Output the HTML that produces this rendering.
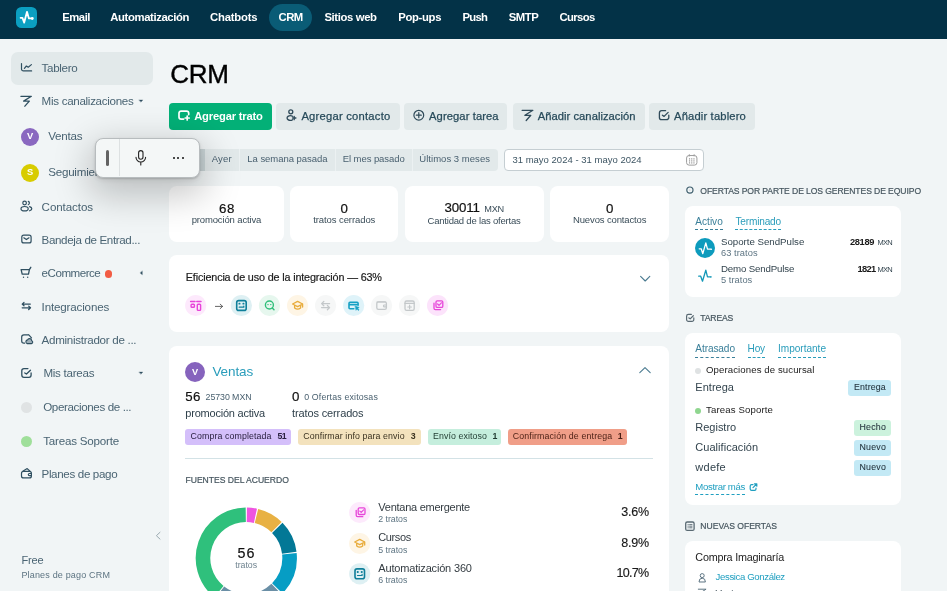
<!DOCTYPE html>
<html lang="es">
<head>
<meta charset="utf-8">
<title>CRM</title>
<style>
*{box-sizing:border-box;margin:0;padding:0}
html,body{width:947px;height:591px;overflow:hidden}
body{font-family:"Liberation Sans",sans-serif;background:#f1f5f6;color:#111;position:relative;font-size:11px}
.a{position:absolute}
.t{position:absolute;white-space:nowrap;line-height:1}
svg{position:absolute;overflow:visible}
#nav{position:absolute;left:0;top:0;width:947px;height:38.5px;background:#033247}
.card{position:absolute;background:#fff;border-radius:8px}
.btn{position:absolute;top:103px;height:27px;border-radius:4px;background:#e2e9ea}
.ic{position:absolute;width:21px;height:21px;border-radius:50%}
.tag{position:absolute;top:429.3px;height:15.4px;border-radius:3px}
.bdg{position:absolute;height:15.6px;border-radius:3px;background:#c3e9f5}
.dash{position:absolute;height:0;border-top:1px dashed #2a9dbb}
</style>
</head>
<body>
<!-- NAV -->
<div id="nav"></div>
<div class="a" style="left:16px;top:6.8px;width:21px;height:21px;border-radius:5.5px;background:#0b9fc1"></div>
<svg style="left:16px;top:6.8px" width="21" height="21" viewBox="0 0 21 21"><path d="M4.6 10.8 H6.4 L8.2 15.6 L11 4.8 L12.9 11.4 H15.4" fill="none" stroke="#fff" stroke-width="1.8" stroke-linecap="round" stroke-linejoin="round"/><circle cx="16.3" cy="11.5" r="1.4" fill="#fff"/></svg>
<div class="a" style="left:269px;top:4px;width:43px;height:27px;border-radius:14px;background:#0a5c76"></div>

<!-- SIDEBAR -->
<div class="a" style="left:11px;top:52px;width:142px;height:32.5px;border-radius:7px;background:#e2e9ea"></div>
<div class="a" style="left:21px;top:127.5px;width:18px;height:18px;border-radius:50%;background:#8a68c0"></div>
<div class="a" style="left:21px;top:163.7px;width:18px;height:18px;border-radius:50%;background:#d8cc00"></div>
<div class="a" style="left:104.8px;top:270.4px;width:7.2px;height:7.2px;border-radius:50%;background:#f25c44"></div>
<div class="a" style="left:21px;top:401.8px;width:11px;height:11px;border-radius:50%;background:#e0e3e4"></div>
<div class="a" style="left:21px;top:435.8px;width:11px;height:11px;border-radius:50%;background:#9fdf9a"></div>

<!-- BUTTONS -->
<div class="btn" style="left:169px;width:103px;background:#03b077"></div>
<div class="btn" style="left:276.2px;width:123.6px"></div>
<div class="btn" style="left:404.3px;width:103.2px"></div>
<div class="btn" style="left:513.2px;width:131.6px"></div>
<div class="btn" style="left:649px;width:106px"></div>
<!--BTNICONS-->

<!-- FILTER TABS -->
<div class="a" style="left:169px;top:149px;width:328.6px;height:21.6px;background:#e2e9ea;border-radius:4px"></div>
<div class="a" style="left:169px;top:149px;width:36px;height:21.6px;background:#c9d4d6;border-radius:4px 0 0 4px"></div>
<div class="a" style="left:239.2px;top:149px;width:1px;height:21.6px;background:#ecf1f2"></div>
<div class="a" style="left:335.3px;top:149px;width:1px;height:21.6px;background:#ecf1f2"></div>
<div class="a" style="left:412px;top:149px;width:1px;height:21.6px;background:#ecf1f2"></div>
<div class="a" style="left:504.3px;top:149px;width:199.6px;height:22px;background:#fff;border:1px solid #c5ced2;border-radius:4px"></div>
<svg style="left:686px;top:154.3px" width="11.5" height="11.8" viewBox="0 0 12 12.3"><rect x="0.6" y="1.6" width="10.8" height="10" rx="2.6" fill="none" stroke="#999" stroke-width="1"/><path d="M3.5 0.3v2.2M8.5 0.3v2.2" stroke="#999" stroke-width="1"/><g fill="#8e8e8e"><rect x="3.1" y="4.5" width="1.2" height="1.2"/><rect x="5.4" y="4.5" width="1.2" height="1.2"/><rect x="7.7" y="4.5" width="1.2" height="1.2"/><rect x="3.1" y="6.6" width="1.2" height="1.2"/><rect x="5.4" y="6.6" width="1.2" height="1.2"/><rect x="7.7" y="6.6" width="1.2" height="1.2"/><rect x="3.1" y="8.7" width="1.2" height="1.2"/><rect x="5.4" y="8.7" width="1.2" height="1.2"/><rect x="7.7" y="8.7" width="1.2" height="1.2"/></g></svg>

<!-- STAT CARDS -->
<div class="card" style="left:169px;top:186px;width:115px;height:56px"></div>
<div class="card" style="left:290.2px;top:186px;width:108px;height:56px"></div>
<div class="card" style="left:405px;top:186px;width:139px;height:56px"></div>
<div class="card" style="left:550.2px;top:186px;width:118.6px;height:56px"></div>

<!-- EFFICIENCY CARD -->
<div class="card" style="left:169px;top:255.2px;width:499.8px;height:76.4px"></div>
<!--EFFICONS-->

<!-- VENTAS CARD -->
<div class="card" style="left:169px;top:346px;width:499.8px;height:260px"></div>
<div class="a" style="left:185px;top:362px;width:20px;height:20px;border-radius:50%;background:#8663bd"></div>
<div class="tag" style="left:185px;width:105.8px;background:#d4bffa"></div>
<div class="tag" style="left:298.2px;width:122.8px;background:#f3e2bd"></div>
<div class="tag" style="left:428.2px;width:72.8px;background:#c5eedd"></div>
<div class="tag" style="left:508px;width:119px;background:#f09e88"></div>
<div class="a" style="left:185px;top:457.8px;width:467.8px;height:1px;background:#d3e2e6"></div>
<svg width="947" height="591" viewBox="0 0 947 591" style="left:0;top:0"><path d="M246.83 514.80 A43.3 43.3 0 0 1 255.42 515.77" fill="none" stroke="#ee55e0" stroke-width="14.6"/><path d="M256.45 516.01 A43.3 43.3 0 0 1 276.54 527.11" fill="none" stroke="#e8b143" stroke-width="14.6"/><path d="M277.29 527.86 A43.3 43.3 0 0 1 289.27 552.73" fill="none" stroke="#037896" stroke-width="14.6"/><path d="M289.38 553.78 A43.3 43.3 0 0 1 277.29 588.34" fill="none" stroke="#069dc4" stroke-width="14.6"/><path d="M276.54 589.09 A43.3 43.3 0 0 1 219.72 592.28" fill="none" stroke="#6a8fa6" stroke-width="14.6"/><path d="M218.89 591.62 A43.3 43.3 0 0 1 245.77 514.80" fill="none" stroke="#2fc07c" stroke-width="14.6"/></svg>

<!-- RIGHT COLUMN -->
<div class="card" style="left:685.2px;top:206px;width:215.8px;height:91px"></div>
<div class="card" style="left:685.2px;top:333.2px;width:215.8px;height:171.7px"></div>
<div class="card" style="left:685.2px;top:541.1px;width:215.8px;height:80px"></div>
<div class="dash" style="left:695.3px;top:229px;width:27.5px;border-color:#3a7f99"></div>
<div class="dash" style="left:735.4px;top:229px;width:45.6px"></div>
<div class="dash" style="left:695.3px;top:357px;width:39.6px;border-color:#3a7f99"></div>
<div class="dash" style="left:747.5px;top:357px;width:17.5px"></div>
<div class="dash" style="left:778px;top:357px;width:48px"></div>
<div class="dash" style="left:695.3px;top:494px;width:49.7px;border-color:#1f9fc0"></div>
<div class="a" style="left:694.8px;top:237.6px;width:20.4px;height:20.4px;border-radius:50%;background:#0d9bbd"></div>
<div class="a" style="left:694.8px;top:367.8px;width:6.4px;height:6.4px;border-radius:50%;background:#dfe2e3"></div>
<div class="a" style="left:694.8px;top:407.8px;width:6.4px;height:6.4px;border-radius:50%;background:#8fd68f"></div>
<div class="bdg" style="left:848px;top:380.2px;width:43px"></div>
<div class="bdg" style="left:854px;top:420.3px;width:37px;background:#ccf2dd"></div>
<div class="bdg" style="left:854px;top:440.3px;width:37px"></div>
<div class="bdg" style="left:854px;top:460.4px;width:37px"></div>
<svg class="ov" width="947" height="591" viewBox="0 0 947 591" style="left:0;top:0"><path d="M21.5 63.6 V69 a1.9 1.9 0 0 0 1.9 1.9 H31.6 M24.4 68.4 L26.4 66 L28.2 67.2 L31.4 64.6" fill="none" stroke="#2f4f60" stroke-width="1.2" stroke-linecap="round" stroke-linejoin="round" />
<path d="M20.9 96.3 H31.38 L23.62 101.15 H29.34 L24.88 106.19" fill="none" stroke="#2f4f60" stroke-width="1.3" stroke-linecap="round" stroke-linejoin="round" />
<circle cx="24.6" cy="203" r="1.8" fill="none" stroke="#2f4f60" stroke-width="1.2"/>
<ellipse cx="24.6" cy="208.7" rx="3.6" ry="2.2" fill="none" stroke="#2f4f60" stroke-width="1.2"/>
<path d="M28.3 201.4 a1.8 1.8 0 0 1 0 3.3 M29.6 206.6 q2.2 0.7 2.2 2.1 q0 1.4 -2.2 2.1" fill="none" stroke="#2f4f60" stroke-width="1.2" stroke-linecap="round" stroke-linejoin="round" />
<rect x="21.8" y="235.2" width="9.3" height="7.7" rx="2" fill="none" stroke="#2f4f60" stroke-width="1.2"/>
<path d="M23.8 237.8 L26.4 239.6 L29 237.8" fill="none" stroke="#2f4f60" stroke-width="1.2" stroke-linecap="round" stroke-linejoin="round" />
<path d="M21.1 269.6 H29.4 L28.5 274.2 H22.2 Z M29.4 269.6 L30.8 267.3" fill="none" stroke="#2f4f60" stroke-width="1.3" stroke-linecap="round" stroke-linejoin="round" />
<circle cx="23.5" cy="277.2" r="0.7" fill="#2f4f60" stroke="#2f4f60" stroke-width="0"/>
<circle cx="27.7" cy="277.2" r="0.7" fill="#2f4f60" stroke="#2f4f60" stroke-width="0"/>
<path d="M30.3 304.1 H22.4 M24 302.4 L22.2 304.1 L24 305.8 M22.2 307.8 H30.3 M28.7 306.1 L30.5 307.8 L28.7 309.5" fill="none" stroke="#2f4f60" stroke-width="1.3" stroke-linecap="round" stroke-linejoin="round" />
<path d="M28.8 334.9 H23.9 a2.2 2.2 0 0 0 -2.2 2.2 V341 a2.2 2.2 0 0 0 2.2 2.2 H24.6 M28.8 334.9 L31.5 337.8" fill="none" stroke="#2f4f60" stroke-width="1.2" stroke-linecap="round" stroke-linejoin="round" />
<path d="M27.2 343.6 a1.9 1.9 0 0 1 0.3 -3.7 a2.2 2.2 0 0 1 4.2 0.8 a1.5 1.5 0 0 1 -0.2 2.9 Z" fill="#9fb0b9" stroke="#2f4f60" stroke-width="1.1" stroke-linecap="round" stroke-linejoin="round" />
<path d="M27.94 368.6 H24.0 a2.2 2.2 0 0 0 -2.2 2.2 V375.1 a2.2 2.2 0 0 0 2.2 2.2 H28.900000000000002 a2.2 2.2 0 0 0 2.2 -2.2 V372.95 M24.78 372.95 L26.45 374.08 L30.45 370.25" fill="none" stroke="#2f4f60" stroke-width="1.3" stroke-linecap="round" stroke-linejoin="round" />
<rect x="21.5" y="471.4" width="9.9" height="6.5" rx="2" fill="none" stroke="#2f4f60" stroke-width="1.2"/>
<path d="M22.8 471.3 L27.2 468.6 L30 471.3 M31.4 473.5 H29.4 a1.1 1.1 0 0 0 0 2.2 H31.4" fill="none" stroke="#2f4f60" stroke-width="1.2" stroke-linecap="round" stroke-linejoin="round" />
<path d="M139.2 99.9 H142.8 L141 102 Z" fill="#2f4f60" stroke="#2f4f60" stroke-width="0.3" stroke-linecap="round" stroke-linejoin="round" />
<path d="M142.3 271.2 V274.8 L140.2 273 Z" fill="#2f4f60" stroke="#2f4f60" stroke-width="0.3" stroke-linecap="round" stroke-linejoin="round" />
<path d="M139.2 372 H142.8 L141 374.1 Z" fill="#2f4f60" stroke="#2f4f60" stroke-width="0.3" stroke-linecap="round" stroke-linejoin="round" />
<path d="M160 532.3 L156.4 535.7 L160 539.1" fill="none" stroke="#9aa9b0" stroke-width="1" stroke-linecap="round" stroke-linejoin="round" />
<path d="M188.7 114.6 V113.2 a2.1 2.1 0 0 0 -2.1 -2.1 H181.1 a2.1 2.1 0 0 0 -2.1 2.1 V117 a2.1 2.1 0 0 0 2.1 2.1 H183.6 M187.2 116 V120 M185.2 118 H189.2" fill="none" stroke="#fff" stroke-width="1.7" stroke-linecap="round" stroke-linejoin="round" />
<circle cx="290.8" cy="111.8" r="2" fill="none" stroke="#2f4a59" stroke-width="1.3"/>
<path d="M292.6 116.3 a3.3 2.3 0 1 0 0 3.4 M294.2 116.3 V119.7 M292.5 118 H295.9" fill="none" stroke="#2f4a59" stroke-width="1.3" stroke-linecap="round" stroke-linejoin="round" />
<circle cx="418.8" cy="115.2" r="4.9" fill="none" stroke="#2f4a59" stroke-width="1.2"/>
<path d="M418.8 112.7 V117.7 M416.3 115.2 H421.3" fill="none" stroke="#2f4a59" stroke-width="1.2" stroke-linecap="round" stroke-linejoin="round" />
<path d="M522.1 110.3 H532.90 L524.90 115.30 H530.80 L526.20 120.50" fill="none" stroke="#2f4a59" stroke-width="1.3" stroke-linecap="round" stroke-linejoin="round" />
<path d="M665.60 110.7 H661.6999999999999 a2.3 2.3 0 0 0 -2.3 2.3 V117.4 a2.3 2.3 0 0 0 2.3 2.3 H666.5 a2.3 2.3 0 0 0 2.3 -2.3 V115.20 M662.41 115.20 L664.10 116.37 L668.14 112.41" fill="none" stroke="#2f4a59" stroke-width="1.3" stroke-linecap="round" stroke-linejoin="round" />
<path d="M640.6 276.4 L645.2 281 L649.8 276.4" fill="none" stroke="#4a7a90" stroke-width="1.1" stroke-linecap="round" stroke-linejoin="round" />
<path d="M639.8 372.6 L645 367.6 L650.2 372.6" fill="none" stroke="#4a7a90" stroke-width="1.1" stroke-linecap="round" stroke-linejoin="round" />
<path d="M215.4 306.4 H222.6 M220.2 304.2 L222.6 306.4 L220.2 308.6" fill="none" stroke="#555" stroke-width="0.9" stroke-linecap="round" stroke-linejoin="round" />
<circle cx="195.7" cy="305.5" r="10.6" fill="#fde9fc"/>
<path d="M190.6 301.5 H195 M196.8 301.5 H201" fill="none" stroke="#e746d9" stroke-width="1.5" stroke-linecap="round" stroke-linejoin="round" />
<rect x="191.1" y="304.2" width="3.3" height="3.1" rx="0.8" fill="none" stroke="#e746d9" stroke-width="1.4"/>
<rect x="197.3" y="304.2" width="3.3" height="6.2" rx="0.8" fill="none" stroke="#e746d9" stroke-width="1.4"/>
<circle cx="241.4" cy="305.5" r="10.6" fill="#def0f3"/>
<rect x="236.7" y="300.6" width="9.5" height="9.8" rx="2" fill="none" stroke="#0e7f9a" stroke-width="1.6"/>
<path d="M239.3 303.7 h0.3 M243.3 303.7 h0.3" fill="none" stroke="#0e7f9a" stroke-width="1.8" stroke-linecap="round" stroke-linejoin="round" />
<path d="M239.2 307.2 H243.8 M243.8 306 V307.2" fill="none" stroke="#0e7f9a" stroke-width="1.2" stroke-linecap="round" stroke-linejoin="round" />
<circle cx="269.5" cy="305.5" r="10.6" fill="#e6f7ee"/>
<circle cx="269.4" cy="305" r="4" fill="none" stroke="#2fbf7a" stroke-width="1.4"/>
<path d="M272.3 308 L274 309.8" fill="none" stroke="#2fbf7a" stroke-width="1.4" stroke-linecap="round" stroke-linejoin="round" />
<path d="M267.9 304.6 h0.2 M270.7 304.6 h0.2" fill="none" stroke="#2fbf7a" stroke-width="1.3" stroke-linecap="round" stroke-linejoin="round" />
<circle cx="297.6" cy="305.5" r="10.6" fill="#fef5e5"/>
<path d="M292.6 304 L297.6 301.4 L302.6 304 L297.6 306.6 Z M294.6 305.4 V308 q3 2.4 6 0 V305.4 M302.6 304 V307" fill="none" stroke="#e8ac3c" stroke-width="1.3" stroke-linecap="round" stroke-linejoin="round" />
<circle cx="325.6" cy="305.5" r="10.6" fill="#f6f7f7"/>
<path d="M329.6 303.6 H321.8 M323.8 301.5 L321.6 303.6 L323.8 305.7 M321.6 307.6 H329.4 M327.4 305.5 L329.6 307.6 L327.4 309.7" fill="none" stroke="#c4c8ca" stroke-width="1.3" stroke-linecap="round" stroke-linejoin="round" />
<circle cx="353.7" cy="305.5" r="10.6" fill="#dff3f9"/>
<path d="M358.1 305.2 V303.4 a1 1 0 0 0 -1 -1 H350 a1 1 0 0 0 -1 1 V307.8 a1 1 0 0 0 1 1 H353.8 M349 304.8 H358.1" fill="none" stroke="#16a0c4" stroke-width="1.6" stroke-linecap="round" stroke-linejoin="round" />
<path d="M355.4 306.2 L359.2 307.4 L357.7 308.2 L359 309.8 L358.2 310.4 L357 308.8 L356.2 310 Z" fill="#16a0c4" stroke="#16a0c4" stroke-width="0.6" stroke-linecap="round" stroke-linejoin="round" />
<circle cx="381.6" cy="305.5" r="10.6" fill="#f6f7f7"/>
<rect x="376.8" y="301.8" width="9.6" height="7.6" rx="1.6" fill="none" stroke="#c4c8ca" stroke-width="1.3"/>
<path d="M377 302 H385.6 M386.4 305 H384.4 a0.9 0.9 0 0 0 0 1.8 H386.4" fill="none" stroke="#c4c8ca" stroke-width="1.2" stroke-linecap="round" stroke-linejoin="round" />
<circle cx="409.6" cy="305.5" r="10.6" fill="#f6f7f7"/>
<rect x="405" y="301" width="9.2" height="9.4" rx="1.6" fill="none" stroke="#c4c8ca" stroke-width="1.3"/>
<path d="M405 303.4 H414.2 M409.6 305.2 V308.8 M407.8 307 H411.4" fill="none" stroke="#c4c8ca" stroke-width="1.2" stroke-linecap="round" stroke-linejoin="round" />
<circle cx="437.6" cy="305.5" r="10.6" fill="#fce3fb"/>
<rect x="436" y="300.8" width="6.8" height="6.6" rx="1.2" fill="none" stroke="#e746d9" stroke-width="1.3"/>
<path d="M434 303.2 V308.2 a1.4 1.4 0 0 0 1.4 1.4 H440.6" fill="none" stroke="#e746d9" stroke-width="1.3" stroke-linecap="round" stroke-linejoin="round" />
<path d="M437.6 304 L439 305.3 L441.4 302.8" fill="none" stroke="#e746d9" stroke-width="1.2" stroke-linecap="round" stroke-linejoin="round" />
<circle cx="359.7" cy="512.5" r="10.6" fill="#fdeafc"/>
<rect x="358.2" y="507.9" width="6.8" height="6.6" rx="1.2" fill="none" stroke="#e746d9" stroke-width="1.3"/>
<path d="M356.2 510.3 V515.3 a1.4 1.4 0 0 0 1.4 1.4 H362.8" fill="none" stroke="#e746d9" stroke-width="1.3" stroke-linecap="round" stroke-linejoin="round" />
<path d="M359.8 511.1 L361.2 512.4 L363.6 509.9" fill="none" stroke="#e746d9" stroke-width="1.2" stroke-linecap="round" stroke-linejoin="round" />
<circle cx="359.7" cy="543.5" r="10.6" fill="#fef5e5"/>
<path d="M354.7 542 L359.7 539.4 L364.7 542 L359.7 544.6 Z M356.7 543.4 V546 q3 2.4 6 0 V543.4 M364.7 542 V545" fill="none" stroke="#e8ac3c" stroke-width="1.3" stroke-linecap="round" stroke-linejoin="round" />
<circle cx="359.7" cy="573.8" r="10.6" fill="#def0f3"/>
<rect x="355" y="568.9" width="9.5" height="9.8" rx="2" fill="none" stroke="#0e7f9a" stroke-width="1.6"/>
<path d="M357.6 572 h0.3 M361.6 572 h0.3" fill="none" stroke="#0e7f9a" stroke-width="1.8" stroke-linecap="round" stroke-linejoin="round" />
<path d="M357.5 575.5 H362.1 M362.1 574.3 V575.5" fill="none" stroke="#0e7f9a" stroke-width="1.2" stroke-linecap="round" stroke-linejoin="round" />
<circle cx="689.9" cy="190.1" r="3.1" fill="none" stroke="#41606f" stroke-width="1.2"/>
<circle cx="689.9" cy="190.1" r="0.5" fill="#9fb0b8" stroke="#5a6a73" stroke-width="0"/>
<path d="M691.35 314.4 H688.4 a1.8 1.8 0 0 0 -1.8 1.8 V319.59999999999997 a1.8 1.8 0 0 0 1.8 1.8 H692.0000000000001 a1.8 1.8 0 0 0 1.8 -1.8 V317.90 M688.90 317.90 L690.20 318.81 L693.30 315.73" fill="none" stroke="#5a6a73" stroke-width="1.2" stroke-linecap="round" stroke-linejoin="round" />
<rect x="685.7" y="522" width="8.4" height="8.4" rx="1.5" fill="none" stroke="#5a6a73" stroke-width="1.3"/>
<path d="M688 524.6 h0.3 M689.6 524.6 H692 M688 526.2 h0.3 M689.6 526.2 H692 M688 527.8 h0.3 M689.6 527.8 H692" fill="none" stroke="#5a6a73" stroke-width="0.9" stroke-linecap="round" stroke-linejoin="round" />
<path d="M699.2 248.8 H701.2 L702.8 253.7 L705.8 242.8 L707.5 249.2 H710.6" fill="none" stroke="#fff" stroke-width="1.3" stroke-linecap="round" stroke-linejoin="round" />
<circle cx="711.3" cy="249.2" r="0.8" fill="#fff" stroke="#fff" stroke-width="0"/>
<path d="M698.7 276.2 H700.7 L702.5 281.2 L705.8 270.2 L707.5 276.9 H710.2" fill="none" stroke="#1398b8" stroke-width="1.3" stroke-linecap="round" stroke-linejoin="round" />
<circle cx="710.9" cy="276.9" r="0.8" fill="#1398b8" stroke="#1398b8" stroke-width="0"/>
<path d="M753 484.6 H751.6 a1.4 1.4 0 0 0 -1.4 1.4 V489 a1.4 1.4 0 0 0 1.4 1.4 H754.6 a1.4 1.4 0 0 0 1.4 -1.4 V488" fill="none" stroke="#1f9fc0" stroke-width="1.2" stroke-linecap="round" stroke-linejoin="round" />
<path d="M753 487.6 L756.6 484 M754.4 483.8 H756.8 V486.2" fill="none" stroke="#1f9fc0" stroke-width="1.2" stroke-linecap="round" stroke-linejoin="round" />
<circle cx="702.2" cy="575.6" r="2" fill="none" stroke="#5d7482" stroke-width="1"/>
<path d="M699 581.6 q0 -3.4 3.2 -3.4 q3.2 0 3.2 3.4 Z" fill="none" stroke="#5d7482" stroke-width="1" stroke-linecap="round" stroke-linejoin="round" />
<path d="M698.3 589.2 H706.08 L700.32 592.80 H704.56 L701.25 596.54" fill="none" stroke="#5d7482" stroke-width="1" stroke-linecap="round" stroke-linejoin="round" /></svg>

<div id="tx" style="position:absolute;left:0;top:0;width:947px;height:591px;will-change:transform">
<div class="t" style="left:62.20px;top:12.00px;font-size:11.3px;color:#fff;font-weight:700;letter-spacing:-0.468px;">Email</div>
<div class="t" style="left:110.30px;top:12.00px;font-size:11.3px;color:#fff;font-weight:700;letter-spacing:-0.386px;">Automatización</div>
<div class="t" style="left:210.10px;top:12.00px;font-size:11.3px;color:#fff;font-weight:700;letter-spacing:-0.219px;">Chatbots</div>
<div class="t" style="left:278.60px;top:12.00px;font-size:11.3px;color:#fff;font-weight:700;letter-spacing:-0.578px;">CRM</div>
<div class="t" style="left:324.40px;top:12.00px;font-size:11.3px;color:#fff;font-weight:700;letter-spacing:-0.367px;">Sitios web</div>
<div class="t" style="left:398.30px;top:12.00px;font-size:11.3px;color:#fff;font-weight:700;letter-spacing:-0.341px;">Pop-ups</div>
<div class="t" style="left:462.40px;top:12.00px;font-size:11.3px;color:#fff;font-weight:700;letter-spacing:-0.700px;">Push</div>
<div class="t" style="left:508.70px;top:12.00px;font-size:11.3px;color:#fff;font-weight:700;letter-spacing:-0.423px;">SMTP</div>
<div class="t" style="left:559.40px;top:12.00px;font-size:11.3px;color:#fff;font-weight:700;letter-spacing:-0.604px;">Cursos</div>
<div class="t" style="left:41.60px;top:62.00px;font-size:11.6px;color:#4a6473;letter-spacing:-0.319px;">Tablero</div>
<div class="t" style="left:41.60px;top:95.00px;font-size:11.6px;color:#4a6473;letter-spacing:-0.301px;">Mis canalizaciones</div>
<div class="t" style="left:48.20px;top:130.00px;font-size:11.6px;color:#4a6473;letter-spacing:-0.195px;">Ventas</div>
<div class="t" style="left:48.20px;top:166.00px;font-size:11.6px;color:#4a6473;letter-spacing:-0.223px;">Seguimiento</div>
<div class="t" style="left:41.60px;top:201.00px;font-size:11.6px;color:#4a6473;letter-spacing:-0.089px;">Contactos</div>
<div class="t" style="left:41.60px;top:234.00px;font-size:11.6px;color:#4a6473;letter-spacing:-0.366px;">Bandeja de Entrad...</div>
<div class="t" style="left:41.60px;top:267.00px;font-size:11.6px;color:#4a6473;letter-spacing:-0.493px;">eCommerce</div>
<div class="t" style="left:41.60px;top:301.00px;font-size:11.6px;color:#4a6473;letter-spacing:-0.162px;">Integraciones</div>
<div class="t" style="left:41.60px;top:334.00px;font-size:11.6px;color:#4a6473;letter-spacing:-0.292px;">Administrador de ...</div>
<div class="t" style="left:43.40px;top:367.00px;font-size:11.6px;color:#4a6473;letter-spacing:-0.268px;">Mis tareas</div>
<div class="t" style="left:43.20px;top:401.00px;font-size:11.6px;color:#4a6473;letter-spacing:-0.375px;">Operaciones de ...</div>
<div class="t" style="left:43.20px;top:435.00px;font-size:11.6px;color:#4a6473;letter-spacing:-0.203px;">Tareas Soporte</div>
<div class="t" style="left:41.50px;top:468.00px;font-size:11.6px;color:#4a6473;letter-spacing:-0.342px;">Planes de pago</div>
<div class="t" style="left:21.40px;top:555.00px;font-size:11px;color:#4a6473;letter-spacing:-0.131px;">Free</div>
<div class="t" style="left:21.40px;top:571.00px;font-size:9px;color:#5d7482;letter-spacing:0.174px;">Planes de pago CRM</div>
<div class="t" style="left:26.90px;top:132.00px;font-size:9.3px;color:#fff;font-weight:700;">V</div>
<div class="t" style="left:26.90px;top:168.00px;font-size:9.3px;color:#fff;font-weight:700;">S</div>
<div class="t" style="left:170.20px;top:61.00px;font-size:26px;color:#000;letter-spacing:-0.206px;-webkit-text-stroke:0.4px #000;">CRM</div>
<div class="t" style="left:194.20px;top:111.00px;font-size:11.2px;color:#fff;font-weight:700;letter-spacing:-0.175px;">Agregar trato</div>
<div class="t" style="left:301.40px;top:111.00px;font-size:11.2px;color:#274a5a;letter-spacing:0.244px;-webkit-text-stroke:0.25px #274a5a;">Agregar contacto</div>
<div class="t" style="left:429.00px;top:111.00px;font-size:11.2px;color:#274a5a;letter-spacing:0.098px;-webkit-text-stroke:0.25px #274a5a;">Agregar tarea</div>
<div class="t" style="left:537.70px;top:111.00px;font-size:11.2px;color:#274a5a;letter-spacing:0.046px;-webkit-text-stroke:0.25px #274a5a;">Añadir canalización</div>
<div class="t" style="left:674.00px;top:111.00px;font-size:11.2px;color:#274a5a;letter-spacing:0.167px;-webkit-text-stroke:0.25px #274a5a;">Añadir tablero</div>
<div class="t" style="left:211.70px;top:154.00px;font-size:9.5px;color:#4a6170;letter-spacing:0.231px;">Ayer</div>
<div class="t" style="left:247.30px;top:154.00px;font-size:9.5px;color:#4a6170;letter-spacing:-0.038px;">La semana pasada</div>
<div class="t" style="left:342.70px;top:154.00px;font-size:9.5px;color:#4a6170;letter-spacing:-0.065px;">El mes pasado</div>
<div class="t" style="left:419.30px;top:154.00px;font-size:9.5px;color:#4a6170;letter-spacing:0.032px;">Últimos 3 meses</div>
<div class="t" style="left:512.40px;top:155.00px;font-size:9.5px;color:#3d5563;letter-spacing:0.012px;">31 mayo 2024 - 31 mayo 2024</div>
<div class="t" style="left:218.90px;top:202.00px;font-size:13.3px;color:#111;letter-spacing:0.602px;-webkit-text-stroke:0.2px #111;">68</div>
<div class="t" style="left:191.63px;top:215.00px;font-size:9.5px;color:#3a4d59;letter-spacing:-0.138px;">promoción activa</div>
<div class="t" style="left:340.60px;top:202.00px;font-size:13.3px;color:#111;-webkit-text-stroke:0.2px #111;">0</div>
<div class="t" style="left:313.25px;top:215.00px;font-size:9.5px;color:#3a4d59;letter-spacing:-0.092px;">tratos cerrados</div>
<div class="t" style="left:444.40px;top:201.00px;font-size:13.3px;color:#111;letter-spacing:-0.120px;-webkit-text-stroke:0.2px #111;">30011</div>
<div class="t" style="left:484.30px;top:205.00px;font-size:9.2px;color:#3a4d59;letter-spacing:-0.307px;">MXN</div>
<div class="t" style="left:427.50px;top:216.00px;font-size:9.5px;color:#3a4d59;letter-spacing:-0.200px;">Cantidad de las ofertas</div>
<div class="t" style="left:606.00px;top:202.00px;font-size:13.3px;color:#111;-webkit-text-stroke:0.2px #111;">0</div>
<div class="t" style="left:573.00px;top:215.00px;font-size:9.5px;color:#3a4d59;letter-spacing:-0.138px;">Nuevos contactos</div>
<div class="t" style="left:185.80px;top:272.00px;font-size:10.8px;color:#1c1c1c;letter-spacing:-0.153px;-webkit-text-stroke:0.2px #1c1c1c;">Eficiencia de uso de la integración — 63%</div>
<div class="t" style="left:191.93px;top:368.00px;font-size:9.2px;color:#fff;font-weight:700;">V</div>
<div class="t" style="left:212.40px;top:365.00px;font-size:13.5px;color:#2a9dbb;letter-spacing:-0.083px;">Ventas</div>
<div class="t" style="left:185.30px;top:390.00px;font-size:13.3px;color:#111;letter-spacing:0.352px;-webkit-text-stroke:0.2px #111;">56</div>
<div class="t" style="left:205.60px;top:393.00px;font-size:8.8px;color:#4a6170;letter-spacing:-0.063px;">25730 MXN</div>
<div class="t" style="left:292.00px;top:390.00px;font-size:13.3px;color:#111;-webkit-text-stroke:0.2px #111;">0</div>
<div class="t" style="left:304.20px;top:393.00px;font-size:8.8px;color:#4a6170;letter-spacing:0.161px;">0 Ofertas exitosas</div>
<div class="t" style="left:185.30px;top:408.00px;font-size:11px;color:#2e3f4a;letter-spacing:-0.216px;">promoción activa</div>
<div class="t" style="left:292.00px;top:408.00px;font-size:11px;color:#2e3f4a;letter-spacing:-0.125px;">tratos cerrados</div>
<div class="t" style="left:190.50px;top:432.00px;font-size:8.8px;color:#2a2140;letter-spacing:0.105px;">Compra completada</div>
<div class="t" style="left:277.50px;top:432.00px;font-size:8.8px;color:#2a2140;font-weight:700;letter-spacing:-0.700px;">51</div>
<div class="t" style="left:303.20px;top:432.00px;font-size:8.8px;color:#3a3220;letter-spacing:0.109px;">Confirmar info para envio</div>
<div class="t" style="left:410.70px;top:432.00px;font-size:8.8px;color:#3a3220;font-weight:700;">3</div>
<div class="t" style="left:433.00px;top:432.00px;font-size:8.8px;color:#1f3a30;letter-spacing:0.091px;">Envío exitoso</div>
<div class="t" style="left:492.50px;top:432.00px;font-size:8.8px;color:#1f3a30;font-weight:700;">1</div>
<div class="t" style="left:512.80px;top:432.00px;font-size:8.8px;color:#4a1f14;letter-spacing:0.137px;">Confirmación de entrega</div>
<div class="t" style="left:617.80px;top:432.00px;font-size:8.8px;color:#4a1f14;font-weight:700;">1</div>
<div class="t" style="left:185.50px;top:476.00px;font-size:8.6px;color:#46565f;letter-spacing:-0.025px;-webkit-text-stroke:0.2px #46565f;">FUENTES DEL ACUERDO</div>
<div class="t" style="left:237.62px;top:546.00px;font-size:14.3px;color:#111;letter-spacing:0.847px;-webkit-text-stroke:0.2px #111;">56</div>
<div class="t" style="left:235.32px;top:561.00px;font-size:8.8px;color:#6f838f;letter-spacing:-0.053px;">tratos</div>
<div class="t" style="left:378.30px;top:502.00px;font-size:11px;color:#343c42;letter-spacing:-0.255px;">Ventana emergente</div>
<div class="t" style="left:378.30px;top:515.00px;font-size:8.8px;color:#5d7482;letter-spacing:-0.043px;">2 tratos</div>
<div class="t" style="left:378.30px;top:532.00px;font-size:11px;color:#343c42;letter-spacing:-0.391px;">Cursos</div>
<div class="t" style="left:378.30px;top:546.00px;font-size:8.8px;color:#5d7482;letter-spacing:-0.043px;">5 tratos</div>
<div class="t" style="left:378.30px;top:563.00px;font-size:11px;color:#343c42;letter-spacing:-0.174px;">Automatización 360</div>
<div class="t" style="left:378.30px;top:576.00px;font-size:8.8px;color:#5d7482;letter-spacing:-0.043px;">6 tratos</div>
<div class="t" style="left:621.30px;top:506.00px;font-size:12.5px;color:#1a1a1a;letter-spacing:-0.200px;-webkit-text-stroke:0.15px #1a1a1a;">3.6%</div>
<div class="t" style="left:621.30px;top:537.00px;font-size:12.5px;color:#1a1a1a;letter-spacing:-0.200px;-webkit-text-stroke:0.15px #1a1a1a;">8.9%</div>
<div class="t" style="left:616.55px;top:567.00px;font-size:12.5px;color:#1a1a1a;letter-spacing:-0.700px;-webkit-text-stroke:0.15px #1a1a1a;">10.7%</div>
<div class="t" style="left:700.30px;top:187.00px;font-size:8.6px;color:#46565f;letter-spacing:-0.095px;-webkit-text-stroke:0.2px #46565f;">OFERTAS POR PARTE DE LOS GERENTES DE EQUIPO</div>
<div class="t" style="left:695.30px;top:217.00px;font-size:10.1px;color:#3a7f99;">Activo</div>
<div class="t" style="left:735.40px;top:217.00px;font-size:10.1px;color:#2a9dbb;letter-spacing:-0.171px;">Terminado</div>
<div class="t" style="left:721.00px;top:237.00px;font-size:9.7px;color:#33444e;letter-spacing:-0.011px;">Soporte SendPulse</div>
<div class="t" style="left:721.00px;top:249.00px;font-size:9.3px;color:#5d7482;letter-spacing:0.046px;">63 tratos</div>
<div class="t" style="left:850.00px;top:238.00px;font-size:9.3px;color:#1a1a1a;font-weight:700;letter-spacing:-0.372px;">28189</div>
<div class="t" style="left:877.40px;top:239.00px;font-size:7.5px;color:#33444e;letter-spacing:-0.700px;">MXN</div>
<div class="t" style="left:721.00px;top:264.00px;font-size:9.7px;color:#33444e;letter-spacing:-0.156px;">Demo SendPulse</div>
<div class="t" style="left:721.00px;top:276.00px;font-size:9.3px;color:#5d7482;letter-spacing:0.036px;">5 tratos</div>
<div class="t" style="left:857.60px;top:265.00px;font-size:9.3px;color:#1a1a1a;font-weight:700;letter-spacing:-0.700px;">1821</div>
<div class="t" style="left:877.40px;top:266.00px;font-size:7.5px;color:#33444e;letter-spacing:-0.700px;">MXN</div>
<div class="t" style="left:700.30px;top:314.00px;font-size:8.6px;color:#46565f;letter-spacing:-0.142px;-webkit-text-stroke:0.2px #46565f;">TAREAS</div>
<div class="t" style="left:695.30px;top:344.00px;font-size:10.1px;color:#3a7f99;letter-spacing:-0.101px;">Atrasado</div>
<div class="t" style="left:747.50px;top:344.00px;font-size:10.1px;color:#2a9dbb;letter-spacing:-0.151px;">Hoy</div>
<div class="t" style="left:778.00px;top:344.00px;font-size:10.1px;color:#2a9dbb;letter-spacing:-0.027px;">Importante</div>
<div class="t" style="left:706.00px;top:365.00px;font-size:9.6px;color:#222;letter-spacing:0.103px;">Operaciones de sucursal</div>
<div class="t" style="left:695.30px;top:382.00px;font-size:11px;color:#33444e;letter-spacing:0.024px;">Entrega</div>
<div class="t" style="left:854.00px;top:383.00px;font-size:8.8px;color:#26363f;letter-spacing:0.155px;-webkit-text-stroke:0.08px #26363f;">Entrega</div>
<div class="t" style="left:706.00px;top:405.00px;font-size:9.6px;color:#222;letter-spacing:0.138px;">Tareas Soporte</div>
<div class="t" style="left:695.30px;top:422.00px;font-size:11px;color:#33444e;letter-spacing:-0.009px;">Registro</div>
<div class="t" style="left:859.50px;top:423.00px;font-size:8.8px;color:#26363f;letter-spacing:0.212px;-webkit-text-stroke:0.08px #26363f;">Hecho</div>
<div class="t" style="left:695.30px;top:442.00px;font-size:11px;color:#33444e;letter-spacing:0.040px;">Cualificación</div>
<div class="t" style="left:859.50px;top:443.00px;font-size:8.8px;color:#26363f;letter-spacing:0.212px;-webkit-text-stroke:0.08px #26363f;">Nuevo</div>
<div class="t" style="left:695.30px;top:462.00px;font-size:11px;color:#33444e;letter-spacing:0.268px;">wdefe</div>
<div class="t" style="left:859.50px;top:463.00px;font-size:8.8px;color:#26363f;letter-spacing:0.212px;-webkit-text-stroke:0.08px #26363f;">Nuevo</div>
<div class="t" style="left:695.30px;top:482.00px;font-size:9.6px;color:#1f9fc0;letter-spacing:-0.328px;">Mostrar más</div>
<div class="t" style="left:700.30px;top:522.00px;font-size:8.6px;color:#46565f;letter-spacing:-0.021px;-webkit-text-stroke:0.2px #46565f;">NUEVAS OFERTAS</div>
<div class="t" style="left:695.30px;top:552.00px;font-size:10.8px;color:#222;letter-spacing:-0.219px;">Compra Imaginaría</div>
<div class="t" style="left:715.60px;top:572.00px;font-size:9.6px;color:#1f9fc0;letter-spacing:-0.374px;">Jessica González</div>
<div class="t" style="left:715.60px;top:588.00px;font-size:9.6px;color:#33444e;letter-spacing:-0.391px;">Ventas</div>
</div>

<!-- FLOATING WIDGET -->
<div class="a" style="left:95.2px;top:138.1px;width:104.6px;height:39.7px;border-radius:8px;background:#f4f7f7;border:1px solid #b7bcbe;box-shadow:0 12px 36px 6px rgba(0,0,0,0.22),0 2px 6px rgba(0,0,0,0.08),0 1px 2px rgba(0,0,0,0.16)"></div>
<div class="a" style="left:119.2px;top:139.3px;width:1px;height:37.1px;background:#dde1e2"></div>
<div class="a" style="left:105.7px;top:150px;width:3.2px;height:16.2px;border-radius:1.6px;background:#636363"></div>
<svg style="left:134.5px;top:150.3px" width="11.6" height="15.6" viewBox="0 0 11.6 15.6"><rect x="3.6" y="0.6" width="4.4" height="8.6" rx="2.2" fill="none" stroke="#222" stroke-width="1.1"/><path d="M1 7.2a4.8 4.8 0 0 0 9.6 0M5.8 12v3" fill="none" stroke="#222" stroke-width="1.1" stroke-linecap="round"/></svg>
<div class="a" style="left:172.8px;top:157.1px;width:2px;height:2px;border-radius:50%;background:#111"></div>
<div class="a" style="left:177.2px;top:157.1px;width:2px;height:2px;border-radius:50%;background:#111"></div>
<div class="a" style="left:181.6px;top:157.1px;width:2px;height:2px;border-radius:50%;background:#111"></div>
</body>
</html>
